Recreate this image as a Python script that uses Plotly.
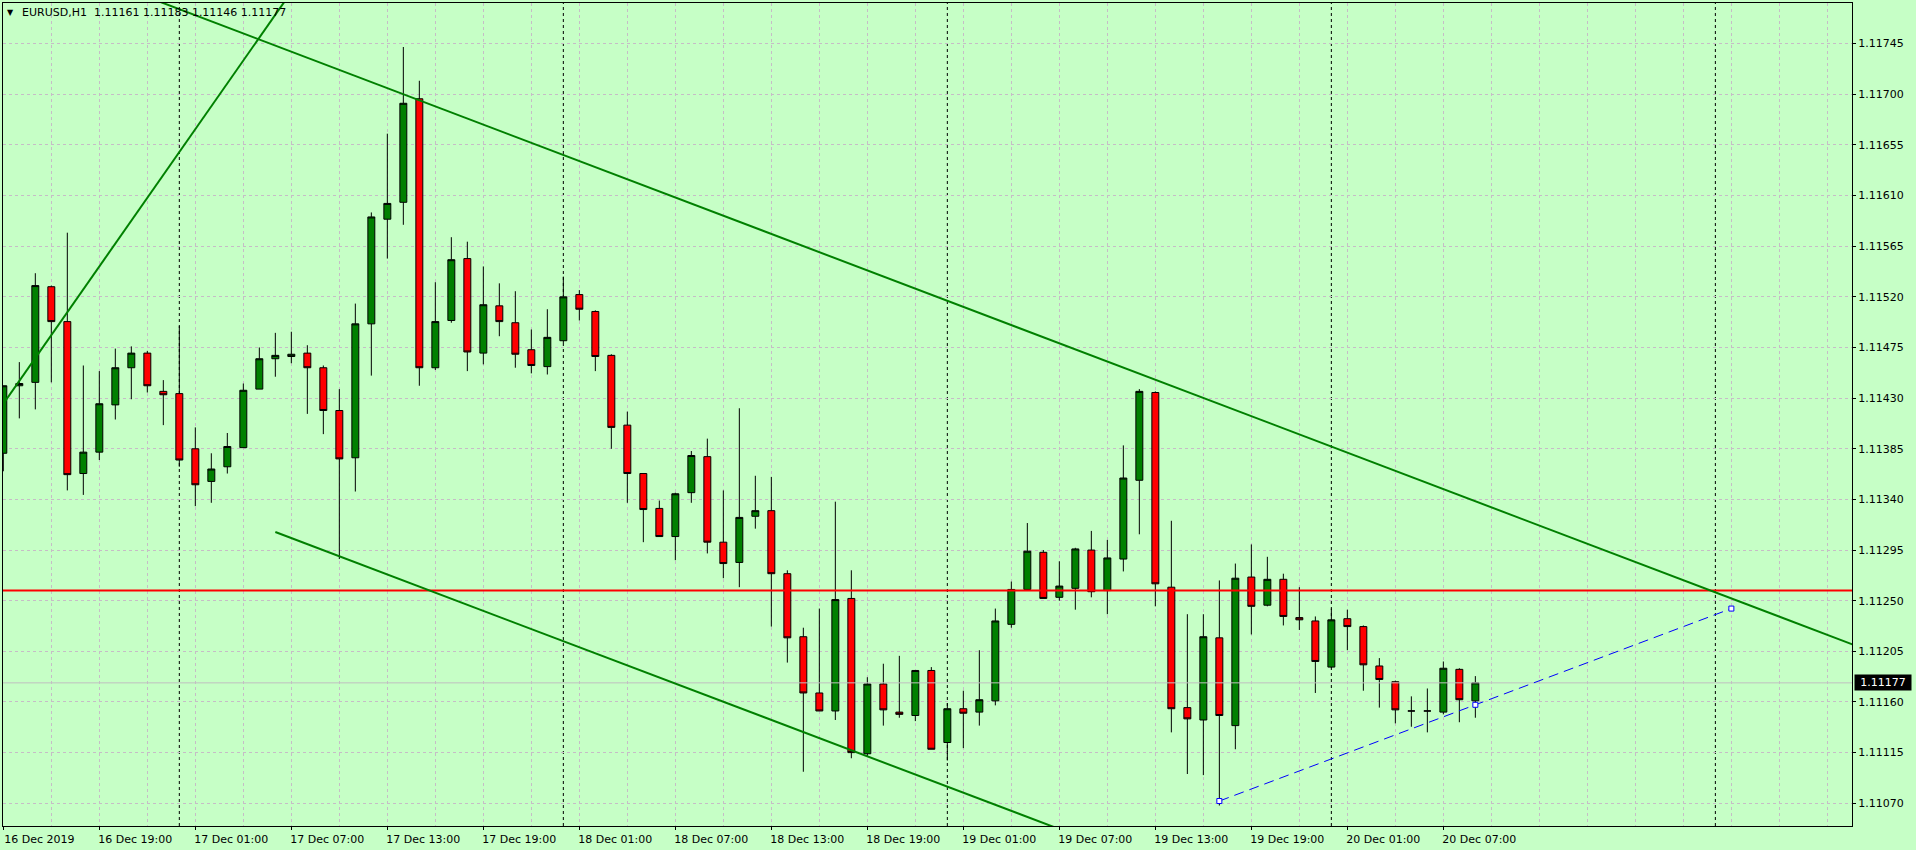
import pandas as pd
import plotly.graph_objects as go

# ---------------- data ----------------
symbol_title = "EURUSD,H1  1.11161 1.11183 1.11146 1.11177"
start_time = "2019-12-16 13:00"
n_future = 23  # empty bars to the right of the last candle

opens = [1.11381, 1.11441, 1.11444, 1.11529, 1.11498, 1.11363, 1.11382, 1.11424, 1.11457, 1.11470,
         1.11436, 1.11434, 1.11385, 1.11356, 1.11369, 1.11386, 1.11438, 1.11465, 1.11467, 1.11470,
         1.11457, 1.11419, 1.11377, 1.11496, 1.11589, 1.11604, 1.11696, 1.11457, 1.11499, 1.11554,
         1.11470, 1.11512, 1.11497, 1.11473, 1.11458, 1.11481, 1.11522, 1.11507, 1.11468, 1.11406,
         1.11363, 1.11332, 1.11307, 1.11346, 1.11378, 1.11302, 1.11284, 1.11325, 1.11330, 1.11274,
         1.11218, 1.11168, 1.11152, 1.11252, 1.11114, 1.11176, 1.11151, 1.11148, 1.11188, 1.11124,
         1.11154, 1.11151, 1.11161, 1.11229, 1.11260, 1.11293, 1.11253, 1.11261, 1.11295, 1.11259,
         1.11287, 1.11357, 1.11435, 1.11262, 1.11155, 1.11144, 1.11217, 1.11139, 1.11271, 1.11246,
         1.11269, 1.11235, 1.11232, 1.11191, 1.11234, 1.11227, 1.11192, 1.11178, 1.11152, 1.11152,
         1.11151, 1.11189, 1.11161]
highs = [1.11441, 1.11462, 1.11541, 1.11530, 1.11577, 1.11459, 1.11454, 1.11474, 1.11476, 1.11472,
         1.11446, 1.11494, 1.11404, 1.11381, 1.11399, 1.11443, 1.11475, 1.11488, 1.11489, 1.11477,
         1.11459, 1.11438, 1.11514, 1.11595, 1.11665, 1.11742, 1.11712, 1.11533, 1.11573, 1.11569,
         1.11547, 1.11532, 1.11525, 1.11491, 1.11509, 1.11538, 1.11526, 1.11508, 1.11469, 1.11418,
         1.11363, 1.11339, 1.11346, 1.11383, 1.11394, 1.11348, 1.11421, 1.11361, 1.11360, 1.11277,
         1.11226, 1.11243, 1.11338, 1.11277, 1.11182, 1.11194, 1.11201, 1.11188, 1.11191, 1.11159,
         1.11170, 1.11206, 1.11243, 1.11267, 1.11319, 1.11295, 1.11285, 1.11297, 1.11312, 1.11304,
         1.11388, 1.11438, 1.11436, 1.11321, 1.11238, 1.11238, 1.11268, 1.11283, 1.11300, 1.11289,
         1.11274, 1.11262, 1.11236, 1.11243, 1.11242, 1.11228, 1.11199, 1.11179, 1.11165, 1.11172,
         1.11196, 1.11190, 1.11183]
lows = [1.11365, 1.11412, 1.11420, 1.11444, 1.11348, 1.11344, 1.11375, 1.11411, 1.11429, 1.11435,
        1.11406, 1.11369, 1.11334, 1.11337, 1.11363, 1.11386, 1.11438, 1.11449, 1.11461, 1.11416,
        1.11398, 1.11287, 1.11347, 1.11450, 1.11554, 1.11584, 1.11441, 1.11455, 1.11497, 1.11454,
        1.11460, 1.11485, 1.11457, 1.11452, 1.11451, 1.11479, 1.11499, 1.11454, 1.11385, 1.11337,
        1.11302, 1.11307, 1.11286, 1.11337, 1.11292, 1.11270, 1.11262, 1.11314, 1.11227, 1.11195,
        1.11098, 1.11152, 1.11144, 1.11110, 1.11112, 1.11139, 1.11146, 1.11143, 1.11118, 1.11108,
        1.11119, 1.11139, 1.11157, 1.11226, 1.11260, 1.11252, 1.11250, 1.11242, 1.11253, 1.11238,
        1.11276, 1.11309, 1.11245, 1.11133, 1.11096, 1.11095, 1.11068, 1.11118, 1.11220, 1.11245,
        1.11228, 1.11224, 1.11168, 1.11190, 1.11206, 1.11170, 1.11155, 1.11141, 1.11138, 1.11133,
        1.11149, 1.11142, 1.11146]
closes = [1.11441, 1.11443, 1.11530, 1.11498, 1.11362, 1.11382, 1.11425, 1.11457, 1.11470, 1.11441,
          1.11433, 1.11375, 1.11353, 1.11367, 1.11387, 1.11437, 1.11465, 1.11468, 1.11469, 1.11457,
          1.11419, 1.11376, 1.11496, 1.11591, 1.11603, 1.11692, 1.11457, 1.11498, 1.11553, 1.11471,
          1.11513, 1.11498, 1.11469, 1.11459, 1.11484, 1.11520, 1.11509, 1.11467, 1.11404, 1.11363,
          1.11331, 1.11307, 1.11345, 1.11379, 1.11302, 1.11283, 1.11324, 1.11330, 1.11274, 1.11217,
          1.11168, 1.11152, 1.11251, 1.11115, 1.11176, 1.11153, 1.11149, 1.11188, 1.11118, 1.11154,
          1.11150, 1.11162, 1.11232, 1.11260, 1.11294, 1.11252, 1.11263, 1.11296, 1.11258, 1.11288,
          1.11359, 1.11436, 1.11265, 1.11154, 1.11145, 1.11218, 1.11148, 1.11270, 1.11245, 1.11269,
          1.11236, 1.11233, 1.11196, 1.11233, 1.11227, 1.11193, 1.11180, 1.11153, 1.11152, 1.11152,
          1.11190, 1.11162, 1.11177]

# time-axis labels (bar index -> text)
time_tick_bars = [0, 6, 12, 18, 24, 30, 36, 42, 48, 54, 60, 66, 72, 78, 84, 90]
time_tick_text = ["16 Dec 2019", "16 Dec 19:00", "17 Dec 01:00", "17 Dec 07:00", "17 Dec 13:00",
                  "17 Dec 19:00", "18 Dec 01:00", "18 Dec 07:00", "18 Dec 13:00", "18 Dec 19:00",
                  "19 Dec 01:00", "19 Dec 07:00", "19 Dec 13:00", "19 Dec 19:00", "20 Dec 01:00",
                  "20 Dec 07:00"]
price_ticks = [1.11070, 1.11115, 1.11160, 1.11205, 1.11250, 1.11295, 1.11340, 1.11385,
               1.11430, 1.11475, 1.11520, 1.11565, 1.11610, 1.11655, 1.11700, 1.11745]

# drawn objects (bar index, price)
upper_channel = ([10, 108], [1.11781, 1.11252])
lower_channel = ([17, 61], [1.11311, 1.11074])
steep_trend = ([0, 15], [1.11425, 1.11730])
blue_trend = ([76, 108], [1.11072, 1.11243])
red_level = 1.11259
bid_price = 1.11177

# ---------------- styling ----------------
BG = "#c6ffc6"
GRID = "#c6bcc6"
FONT = dict(family="DejaVu Sans", size=11, color="black")
X_RANGE = [-0.02, 115.54]
Y_RANGE = [1.110498, 1.117811]

n_bars = len(opens)
bars = list(range(n_bars))
all_times = pd.date_range(start_time, periods=n_bars + n_future, freq="h")
day_separators = [i for i, t in enumerate(all_times) if t.hour == 0]


def extend(pts, x_from, x_to):
    (xa, xb), (ya, yb) = pts
    slope = (yb - ya) / (xb - xa)
    return [x_from, x_to], [ya + slope * (x_from - xa), ya + slope * (x_to - xa)]


fig = go.Figure()

# bid line (behind candles)
fig.add_trace(go.Scatter(x=X_RANGE, y=[bid_price, bid_price], mode="lines",
                         line=dict(color="#c0c0c0", width=1), hoverinfo="skip", showlegend=False))

fig.add_trace(go.Candlestick(
    x=bars, open=opens, high=highs, low=lows, close=closes,
    increasing=dict(fillcolor="#008000", line=dict(color="black", width=1)),
    decreasing=dict(fillcolor="#ff0000", line=dict(color="black", width=1)),
    whiskerwidth=0, showlegend=False, hoverinfo="skip"))

# horizontal red level
fig.add_trace(go.Scatter(x=X_RANGE, y=[red_level, red_level], mode="lines",
                         line=dict(color="#ff0000", width=2), hoverinfo="skip", showlegend=False))

# trend lines
for pts, x0, x1 in [(upper_channel, -2, 125), (lower_channel, lower_channel[0][0], 125),
                    (steep_trend, -5, 40)]:
    lx, ly = extend(pts, x0, x1)
    fig.add_trace(go.Scatter(x=lx, y=ly, mode="lines", line=dict(color="#008000", width=2),
                             hoverinfo="skip", showlegend=False))

bx = [blue_trend[0][0], (blue_trend[0][0] + blue_trend[0][1]) / 2, blue_trend[0][1]]
by = [blue_trend[1][0], (blue_trend[1][0] + blue_trend[1][1]) / 2, blue_trend[1][1]]
fig.add_trace(go.Scatter(x=bx, y=by, mode="lines+markers",
                         line=dict(color="#0000ff", width=1, dash="10px,6px"),
                         marker=dict(symbol="square", size=5, color="white",
                                     line=dict(color="#0000ff", width=1)),
                         hoverinfo="skip", showlegend=False))

shapes = []
for d in day_separators:
    shapes.append(dict(type="line", xref="x", yref="paper", x0=d, x1=d, y0=0, y1=1,
                       line=dict(color="black", width=1, dash="3px,3px"), layer="below"))

annotations = [
    dict(text="▼", xref="paper", yref="paper", x=(10.7 - 3) / 1849, y=1 - (12.3 - 3) / 823,
         xanchor="center", yanchor="middle", showarrow=False,
         font=dict(family="DejaVu Sans", size=8, color="black")),
    dict(text=symbol_title, xref="paper", yref="paper", x=(20 - 3) / 1849, y=1 - (12.7 - 3) / 823,
         xanchor="left", yanchor="middle", showarrow=False, font=FONT),
    dict(text=f"{bid_price:.5f}", xref="paper", yref="y", x=1, y=bid_price, xanchor="left",
         yanchor="middle", xshift=2, showarrow=False, bgcolor="black", width=54, height=13,
         font=dict(family="DejaVu Sans", size=11, color="white")),
]

fig.update_layout(
    width=1916, height=850, autosize=False,
    margin=dict(l=3, r=64, t=3, b=24, pad=0),
    paper_bgcolor=BG, plot_bgcolor=BG,
    font=FONT, showlegend=False, boxgap=0.38,
    shapes=shapes, annotations=annotations,
    xaxis=dict(range=X_RANGE, rangeslider=dict(visible=False), automargin=False,
               tickmode="array", tickvals=time_tick_bars, ticktext=time_tick_text,
               ticks="outside", ticklen=3, tickcolor="black", ticklabelshift=36,
               showgrid=True, gridcolor=GRID, griddash="3px,3px", gridwidth=1,
               minor=dict(tickmode="array", tickvals=list(range(0, 116, 3)), showgrid=True,
                          gridcolor=GRID, griddash="3px,3px", ticks=""),
               showline=True, linecolor="black", linewidth=1, mirror=True, zeroline=False,
               fixedrange=True),
    yaxis=dict(range=Y_RANGE, side="right", automargin=False,
               tickmode="array", tickvals=price_ticks, ticktext=[f"{p:.5f}" for p in price_ticks],
               ticks="outside", ticklen=3, tickcolor="black",
               showgrid=True, gridcolor=GRID, griddash="3px,3px", gridwidth=1,
               showline=True, linecolor="black", linewidth=1, mirror=True, zeroline=False,
               fixedrange=True),
)

fig.write_html("out.html", config={"displayModeBar": False},
               post_script="document.body.style.margin='0px';")
